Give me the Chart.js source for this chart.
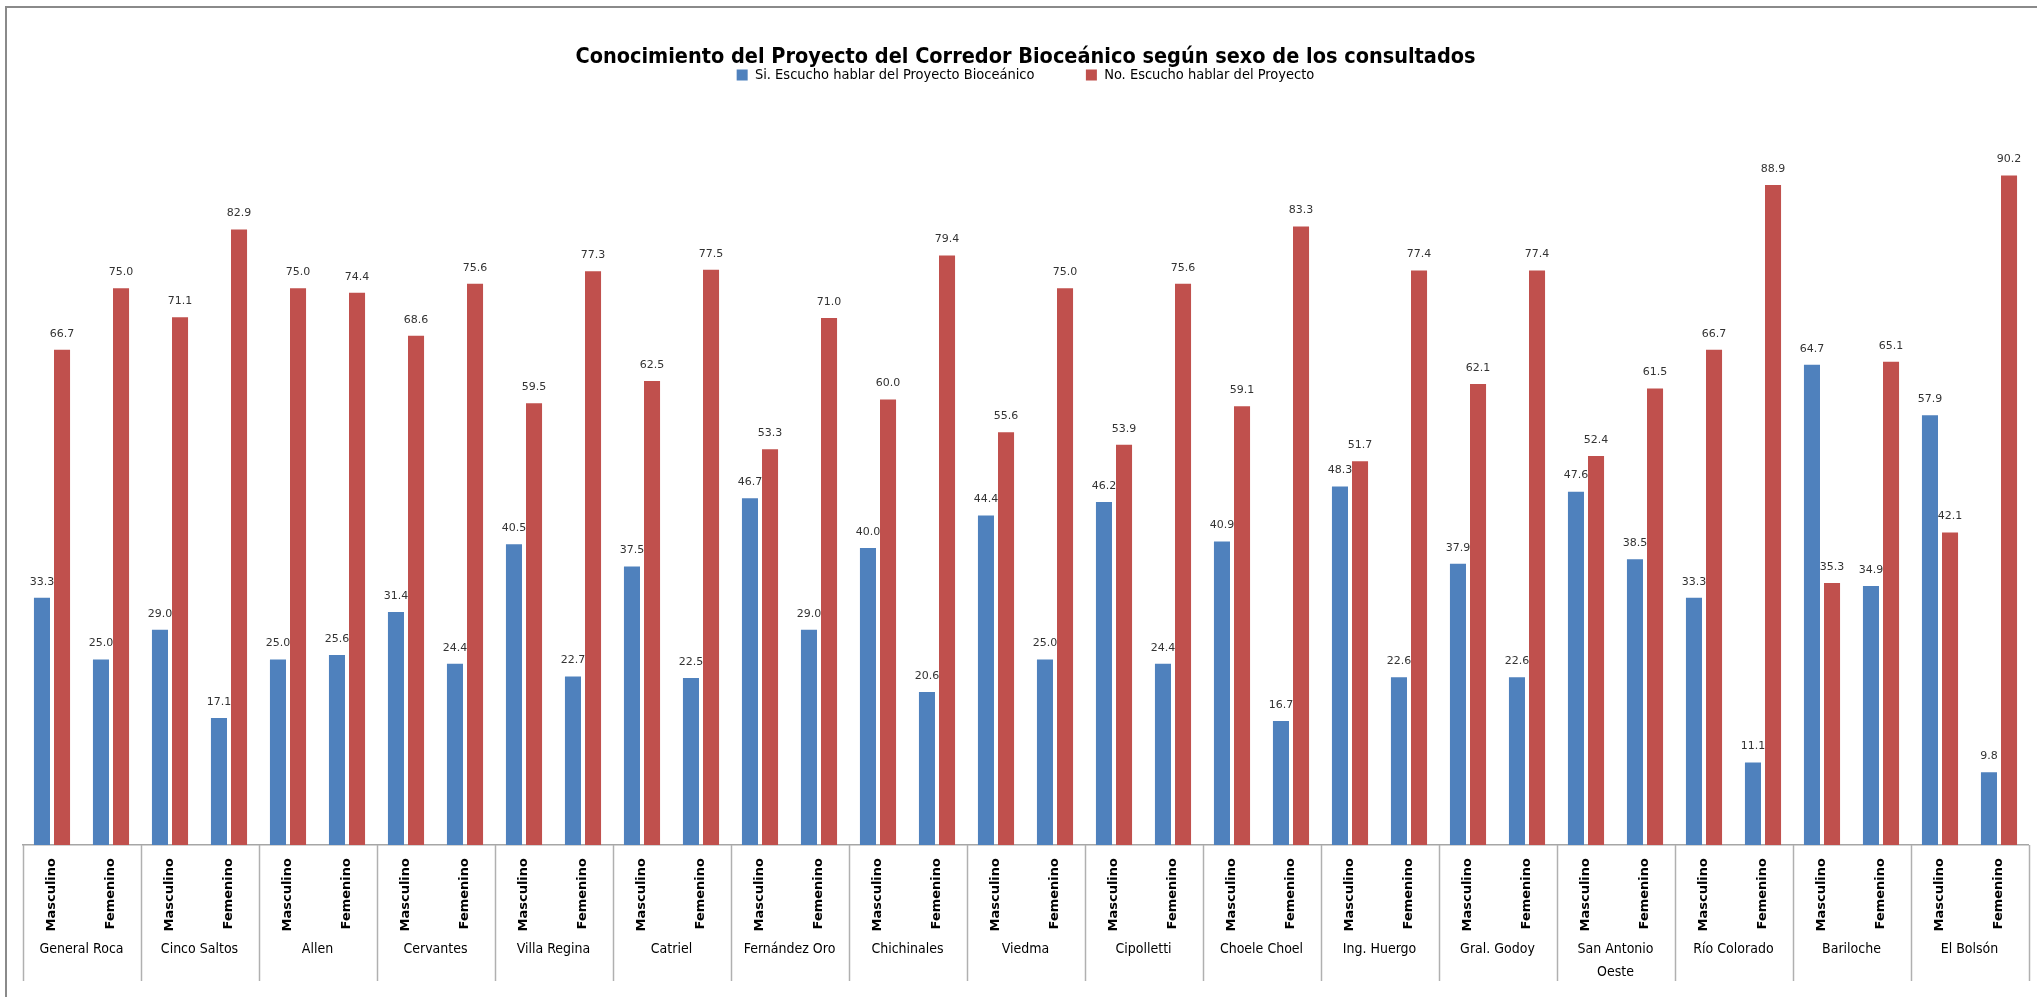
<!DOCTYPE html>
<html>
<head>
<meta charset="utf-8">
<script src="https://cdn.jsdelivr.net/npm/chart.js@4/dist/chart.umd.min.js"></script>
<style>
  html, body { margin: 0; padding: 0; background: #ffffff; }
  canvas { display: block; }
</style>
</head>
<body>
<canvas id="c" width="2037" height="997"></canvas>
<script>
// ---- data ----
const groups = ["General Roca", "Cinco Saltos", "Allen", "Cervantes", "Villa Regina", "Catriel",
  "Fernández Oro", "Chichinales", "Viedma", "Cipolletti", "Choele Choel", "Ing. Huergo",
  "Gral. Godoy", ["San Antonio", "Oeste"], "Río Colorado", "Bariloche", "El Bolsón"];
const sexes = ["Masculino", "Femenino"];
const seriesNames = ["Si. Escucho hablar del Proyecto Bioceánico", "No. Escucho hablar del Proyecto"];
// order per group: Masculino, Femenino
const siValues = [33.3, 25.0, 29.0, 17.1, 25.0, 25.6, 31.4, 24.4, 40.5, 22.7, 37.5, 22.5,
  46.7, 29.0, 40.0, 20.6, 44.4, 25.0, 46.2, 24.4, 40.9, 16.7, 48.3, 22.6,
  37.9, 22.6, 47.6, 38.5, 33.3, 11.1, 64.7, 34.9, 57.9, 9.8];
const noValues = [66.7, 75.0, 71.1, 82.9, 75.0, 74.4, 68.6, 75.6, 59.5, 77.3, 62.5, 77.5,
  53.3, 71.0, 60.0, 79.4, 55.6, 75.0, 53.9, 75.6, 59.1, 83.3, 51.7, 77.4,
  62.1, 77.4, 52.4, 61.5, 66.7, 88.9, 35.3, 65.1, 42.1, 90.2];
const titleText = "Conocimiento del Proyecto del Corredor Bioceánico según sexo de los consultados";

// ---- build ----
const labels = [];
groups.forEach(() => sexes.forEach(s => labels.push(s)));

const NARROW = "'Liberation Sans Narrow', 'DejaVu Sans Condensed', 'Arial Narrow', sans-serif";

const framePlugin = {
  id: 'frame',
  beforeDraw(chart) {
    const ctx = chart.ctx;
    ctx.save();
    ctx.strokeStyle = '#8a8a8a';
    ctx.lineWidth = 2;
    ctx.beginPath();
    ctx.moveTo(6, chart.height);
    ctx.lineTo(6, 7);
    ctx.lineTo(chart.width, 7);
    ctx.stroke();
    ctx.restore();
  }
};

const valueLabels = {
  id: 'valueLabels',
  afterDatasetsDraw(chart) {
    const ctx = chart.ctx;
    ctx.save();
    ctx.font = "11px 'DejaVu Sans', sans-serif";
    ctx.fillStyle = '#333333';
    ctx.textAlign = 'center';
    ctx.textBaseline = 'middle';
    chart.data.datasets.forEach((ds, di) => {
      const meta = chart.getDatasetMeta(di);
      meta.data.forEach((bar, i) => {
        ctx.fillText(Number(ds.data[i]).toFixed(1), bar.x, bar.y - 16);
      });
    });
    ctx.restore();
  }
};

const groupAxis = {
  id: 'groupAxis',
  afterDraw(chart) {
    const xs = chart.scales.x;
    const ctx = chart.ctx;
    const top = xs.top;
    const bottom = xs.bottom;
    ctx.save();
    ctx.strokeStyle = '#b0b0b0';
    ctx.lineWidth = 1.5;
    const n = sexes.length;
    const bounds = [];
    for (let g = 0; g <= groups.length; g++) {
      let x;
      if (g === 0) x = chart.chartArea.left;
      else if (g === groups.length) x = chart.chartArea.right;
      else x = (xs.getPixelForTick(g * n - 1) + xs.getPixelForTick(g * n)) / 2;
      bounds.push(x);
      ctx.beginPath();
      ctx.moveTo(Math.round(x) + 0.5, top);
      ctx.lineTo(Math.round(x) + 0.5, bottom);
      ctx.stroke();
    }
    ctx.fillStyle = '#000000';
    ctx.font = "14px " + NARROW;
    ctx.textAlign = 'center';
    ctx.textBaseline = 'middle';
    groups.forEach((g, gi) => {
      const cx = (bounds[gi] + bounds[gi + 1]) / 2;
      const lines = Array.isArray(g) ? g : [g];
      lines.forEach((ln, li) => ctx.fillText(ln, cx, top + 104 + li * 23));
    });
    ctx.restore();
  }
};

new Chart(document.getElementById('c'), {
  type: 'bar',
  data: {
    labels: labels,
    datasets: [
      { label: seriesNames[0], data: siValues, backgroundColor: '#4F81BD', borderWidth: 0,
        categoryPercentage: 0.68, barPercentage: 0.8 },
      { label: seriesNames[1], data: noValues, backgroundColor: '#C0504D', borderWidth: 0,
        categoryPercentage: 0.68, barPercentage: 0.8 }
    ]
  },
  options: {
    responsive: false,
    devicePixelRatio: 1,
    animation: false,
    layout: { padding: { top: 46.25, left: 22.5, right: 8.5, bottom: 16 } },
    plugins: {
      title: {
        display: true,
        text: titleText,
        color: '#000000',
        font: { family: NARROW, size: 21.5, weight: 'bold', lineHeight: 1.0 },
        padding: { top: 0, bottom: -10 }
      },
      legend: {
        display: true,
        position: 'top',
        labels: {
          color: '#000000',
          font: { family: NARROW, size: 14.5 },
          boxWidth: 11,
          boxHeight: 11,
          padding: 10,
          generateLabels(chart) {
            const items = Chart.defaults.plugins.legend.labels.generateLabels(chart);
            items.forEach((it, i) => { if (i === 0) it.text = it.text + '          '; });
            return items;
          }
        }
      },
      tooltip: { enabled: false }
    },
    scales: {
      x: {
        type: 'category',
        grid: { display: false, drawTicks: false },
        border: { display: true, color: '#a6a6a6', width: 1.5 },
        ticks: {
          autoSkip: false,
          minRotation: 90,
          maxRotation: 90,
          padding: 13,
          color: '#000000',
          font: { family: "'DejaVu Sans', sans-serif", size: 13, weight: 'bold' }
        },
        afterFit(scale) { scale.height = 136; }
      },
      y: {
        display: false,
        min: 0,
        max: 101.4
      }
    }
  },
  plugins: [framePlugin, valueLabels, groupAxis]
});
</script>
</body>
</html>
